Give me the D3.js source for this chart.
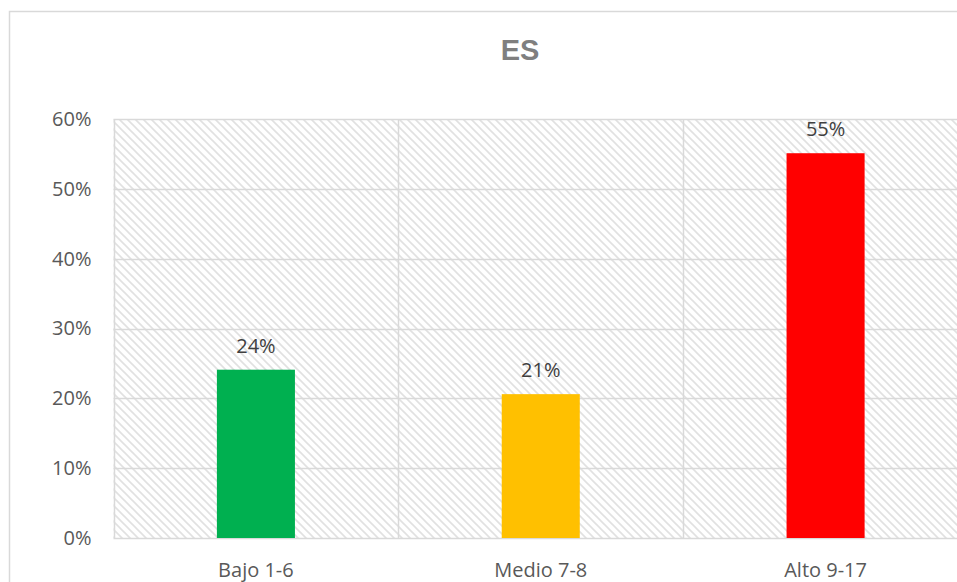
<!DOCTYPE html>
<html lang="es">
<head>
<meta charset="utf-8">
<title>ES</title>
<script src="https://d3js.org/d3.v7.min.js"></script>
<style>
  html, body { margin: 0; padding: 0; background: #fff; overflow: hidden; }
  text { font-family: "Open Sans", sans-serif; }
</style>
</head>
<body>
<div id="chart"></div>
<script>
// data
var categories = ["Bajo 1-6", "Medio 7-8", "Alto 9-17"];
var values = [0.241, 0.206, 0.551];
var labels = ["24%", "21%", "55%"];
var colors = ["#00B050", "#FFC000", "#FF0000"];
var yTicks = [0, 0.1, 0.2, 0.3, 0.4, 0.5, 0.6];

var w = 957, h = 582;
// plot area runs a little past the right edge of the picture
var m = {left: 113.5, right: -11, top: 119, bottom: 44};

var svg = d3.select("#chart").append("svg")
  .attr("width", w).attr("height", h)
  .style("display", "block");

// hatch pattern for plot area
var pat = svg.append("defs").append("pattern")
  .attr("id", "hatch")
  .attr("patternUnits", "userSpaceOnUse")
  .attr("width", 8).attr("height", 8);
pat.append("rect").attr("width", 8).attr("height", 8).attr("fill", "#fff");
pat.append("path")
  .attr("d", "M-2,-2L10,10M-2,6L2,10M6,-2L10,2")
  .attr("stroke", "#e1e1e1").attr("stroke-width", 1.6);

// outer chart border (right and bottom sides fall outside the picture)
svg.append("rect")
  .attr("x", 9.5).attr("y", 11.5)
  .attr("width", 960).attr("height", 590)
  .attr("fill", "none").attr("stroke", "#d9d9d9").attr("stroke-width", 1.5);

var x = d3.scaleBand().domain(categories)
  .range([m.left, w - m.right]).paddingInner(0).paddingOuter(0);
var y = d3.scaleLinear().domain([0, 0.6]).range([h - m.bottom, m.top]);

svg.append("rect")
  .attr("x", m.left).attr("y", m.top)
  .attr("width", w - m.right - m.left).attr("height", h - m.bottom - m.top)
  .attr("fill", "url(#hatch)");

// horizontal grid
svg.append("g").selectAll("line").data(yTicks).enter().append("line")
  .attr("x1", m.left).attr("x2", w - m.right)
  .attr("y1", function(d) { return Math.round(y(d)) + 0.5; })
  .attr("y2", function(d) { return Math.round(y(d)) + 0.5; })
  .attr("stroke", "#d9d9d9").attr("stroke-width", 1.5);

// vertical separators between categories
var seps = categories.map(function(c) { return x(c); });
svg.append("g").selectAll("line").data(seps).enter().append("line")
  .attr("x1", function(d) { return Math.round(d) + 0.5; })
  .attr("x2", function(d) { return Math.round(d) + 0.5; })
  .attr("y1", m.top).attr("y2", h - m.bottom)
  .attr("stroke", "#d9d9d9").attr("stroke-width", 1.5);

// y axis labels
var yAxis = d3.axisLeft(y).tickValues(yTicks).tickFormat(d3.format(".0%")).tickSize(0).tickPadding(22);
var ya = svg.append("g").attr("transform", "translate(" + m.left + ",0)").call(yAxis);
ya.select(".domain").remove();
ya.selectAll("text").attr("fill", "#595959").style("font-size", "20px").style("font-family", "Open Sans, sans-serif");

// x axis labels
var xAxis = d3.axisBottom(x).tickSize(0).tickPadding(25);
var xa = svg.append("g").attr("transform", "translate(0," + (h - m.bottom) + ")").call(xAxis);
xa.select(".domain").remove();
xa.selectAll("text").attr("fill", "#595959").style("font-size", "20px").style("font-family", "Open Sans, sans-serif");

// bars
var bw = x.bandwidth() * 0.274;
svg.append("g").selectAll("rect").data(values).enter().append("rect")
  .attr("x", function(d, i) { return x(categories[i]) + x.bandwidth() / 2 - bw / 2; })
  .attr("y", function(d) { return y(d); })
  .attr("width", bw)
  .attr("height", function(d) { return y(0) - y(d); })
  .attr("fill", function(d, i) { return colors[i]; });

// data labels
svg.append("g").selectAll("text").data(values).enter().append("text")
  .attr("x", function(d, i) { return x(categories[i]) + x.bandwidth() / 2; })
  .attr("y", function(d) { return y(d) - 17; })
  .attr("text-anchor", "middle")
  .attr("fill", "#404040")
  .style("font-size", "20px")
  .text(function(d, i) { return labels[i]; });

// title
svg.append("text")
  .attr("x", 520).attr("y", 60)
  .attr("text-anchor", "middle")
  .attr("fill", "#7f7f7f")
  .style("font-family", "Liberation Sans, Arial, sans-serif")
  .style("font-weight", "bold")
  .style("font-size", "29px")
  .text("ES");
</script>
</body>
</html>
